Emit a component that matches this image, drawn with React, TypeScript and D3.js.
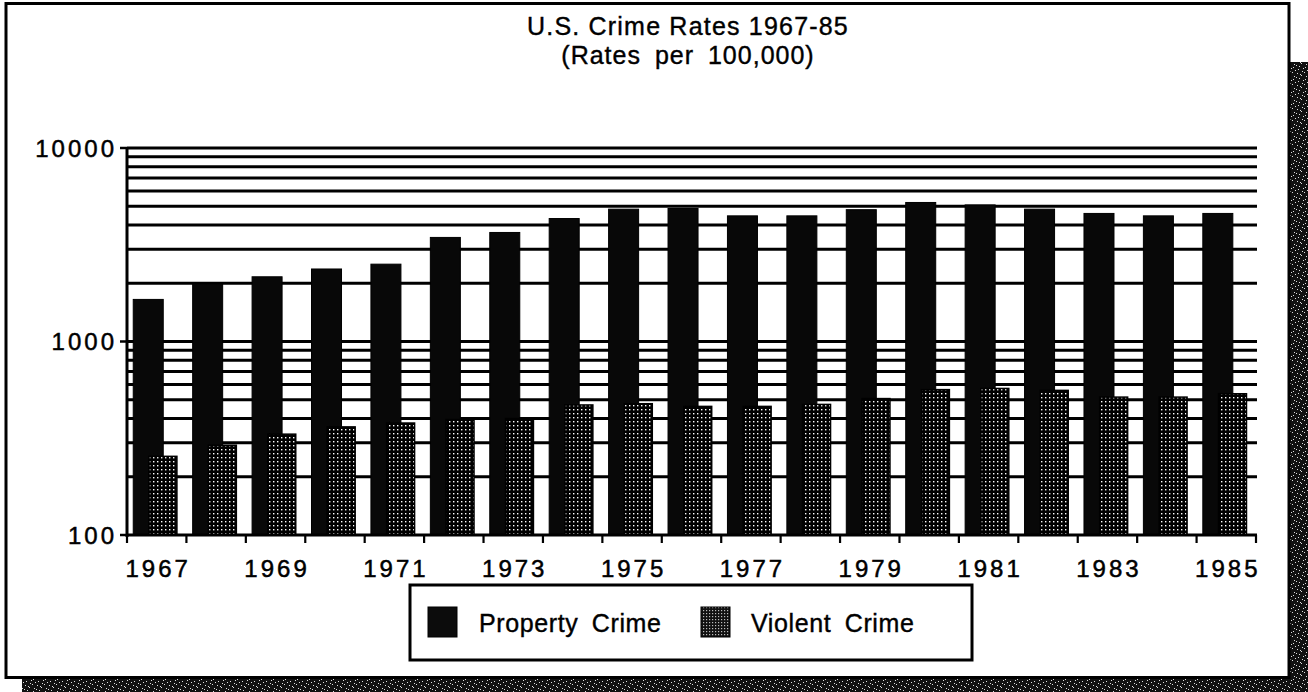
import React from "react";
import * as d3 from "d3";

const YEARS = [1967, 1968, 1969, 1970, 1971, 1972, 1973, 1974, 1975, 1976, 1977, 1978, 1979, 1980, 1981, 1982, 1983, 1984, 1985];
const PROPERTY = [1650, 1980, 2160, 2370, 2510, 3450, 3660, 4320, 4830, 4870, 4460, 4460, 4800, 5230, 5080, 4830, 4590, 4460, 4590];
const VIOLENT = [255, 291, 332, 362, 379, 395, 400, 470, 477, 462, 462, 473, 507, 564, 572, 559, 516, 516, 537];
const Y_TICK_LABELS = [100, 1000, 10000];
const X_LABEL_YEARS = [1967, 1969, 1971, 1973, 1975, 1977, 1979, 1981, 1983, 1985];
const TITLE = "U.S. Crime Rates 1967-85";
const SUBTITLE = "(Rates per 100,000)";
const SERIES = ["Property Crime", "Violent Crime"];

const W = 1308;
const H = 692;
const FONT = "'Liberation Sans', Arial, Helvetica, sans-serif";

// deterministic speckle positions for texture patterns
const SPECKS = [
  [1, 1], [5, 3], [3, 6], [8, 0], [10, 4], [7, 8], [2, 9], [11, 10], [6, 11], [0, 5], [9, 7], [4, 2],
];

export default function App() {
  const x = d3.scaleBand<number>().domain(YEARS).range([127, 1256]).padding(0);
  const y = d3.scaleLog().domain([100, 10000]).range([535, 148]);
  const bw = x.bandwidth();
  const grid = y.ticks().filter((v) => v > 100);
  const bounds = [...YEARS.map((yr) => x(yr) as number), 1256];

  return (
    <svg width={W} height={H} style={{ position: "absolute", left: 0, top: 0, background: "#fff" }}>
      <defs>
        <pattern id="dots" width="4" height="4" patternUnits="userSpaceOnUse">
          <rect width="4" height="4" fill="#000" />
          <rect x="1" y="1" width="1.4" height="1.4" fill="#fff" />
        </pattern>
        <pattern id="dotsLegend" width="3" height="3" patternUnits="userSpaceOnUse">
          <rect width="3" height="3" fill="#111" />
          <rect x="1" y="1" width="1.2" height="1.2" fill="#bbb" />
        </pattern>
        <pattern id="noise" width="12" height="12" patternUnits="userSpaceOnUse">
          <rect width="12" height="12" fill="#111" />
          {SPECKS.map(([a, b], i) => (
            <rect key={i} x={a} y={b} width="1" height="1" fill="#ddd" />
          ))}
        </pattern>
      </defs>

      {/* shadow */}
      <rect x={1290} y={62} width={18} height={H - 62} fill="url(#noise)" />
      <rect x={22} y={679} width={W - 22} height={13} fill="url(#noise)" />
      {/* outer frame */}
      <rect x={6} y={3.5} width={1283} height={674} fill="#fff" stroke="#000" strokeWidth={3} />

      {/* title */}
      <g fontFamily={FONT} fill="#000" stroke="#000" strokeWidth={0.4} textAnchor="middle">
        <text x={688} y={35} fontSize={25} letterSpacing={1.2}>{TITLE}</text>
        <text x={688} y={64} fontSize={25} letterSpacing={1.0} wordSpacing={6}>{SUBTITLE}</text>
      </g>

      {/* gridlines */}
      {grid.map((v) => (
        <line key={v} x1={127} x2={1257} y1={y(v)} y2={y(v)} stroke="#000" strokeWidth={3} />
      ))}

      {/* bars */}
      {YEARS.map((yr, i) => (
        <rect key={"p" + yr} x={(x(yr) as number) + bw * 0.105} y={y(PROPERTY[i])} width={bw * 0.505}
          height={y(100) - y(PROPERTY[i])} fill="#080808" stroke="#000" strokeWidth={1} />
      ))}
      {YEARS.map((yr, i) => (
        <rect key={"v" + yr} x={(x(yr) as number) + bw * 0.37} y={y(VIOLENT[i])} width={bw * 0.47}
          height={y(100) - y(VIOLENT[i])} fill="url(#dots)" stroke="#000" strokeWidth={1.5} />
      ))}

      {/* axes */}
      <line x1={127} x2={127} y1={147} y2={537} stroke="#000" strokeWidth={3} />
      <line x1={126} x2={1257} y1={535} y2={535} stroke="#000" strokeWidth={3} />
      {bounds.map((bx, i) => (
        <line key={"t" + i} x1={bx} x2={bx} y1={535} y2={543} stroke="#000" strokeWidth={2.2} />
      ))}
      {Y_TICK_LABELS.map((v) => (
        <line key={"yt" + v} x1={120} x2={127} y1={y(v)} y2={y(v)} stroke="#000" strokeWidth={2.5} />
      ))}

      <g fontFamily={FONT} fill="#000" stroke="#000" strokeWidth={0.5} fontSize={24} letterSpacing={3}>
        {Y_TICK_LABELS.map((v) => (
          <text key={"yl" + v} x={117} y={y(v) + 8.5} textAnchor="end">{String(v)}</text>
        ))}
        {X_LABEL_YEARS.map((yr) => (
          <text key={"xl" + yr} x={(x(yr) as number) + bw / 2 + 1.5} y={577} textAnchor="middle">{String(yr)}</text>
        ))}
      </g>

      {/* legend */}
      <rect x={410} y={585} width={562} height={75} fill="#fff" stroke="#000" strokeWidth={3} />
      <rect x={428} y={607} width={29} height={30} fill="#0c0c0c" stroke="#000" strokeWidth={1} />
      <rect x={701} y={607} width={29} height={30} fill="url(#dotsLegend)" stroke="#000" strokeWidth={1} />
      <g fontFamily={FONT} fill="#000" stroke="#000" strokeWidth={0.4} fontSize={25} letterSpacing={0.6} wordSpacing={6}>
        <text x={479} y={632}>{SERIES[0]}</text>
        <text x={751} y={632}>{SERIES[1]}</text>
      </g>
    </svg>
  );
}
